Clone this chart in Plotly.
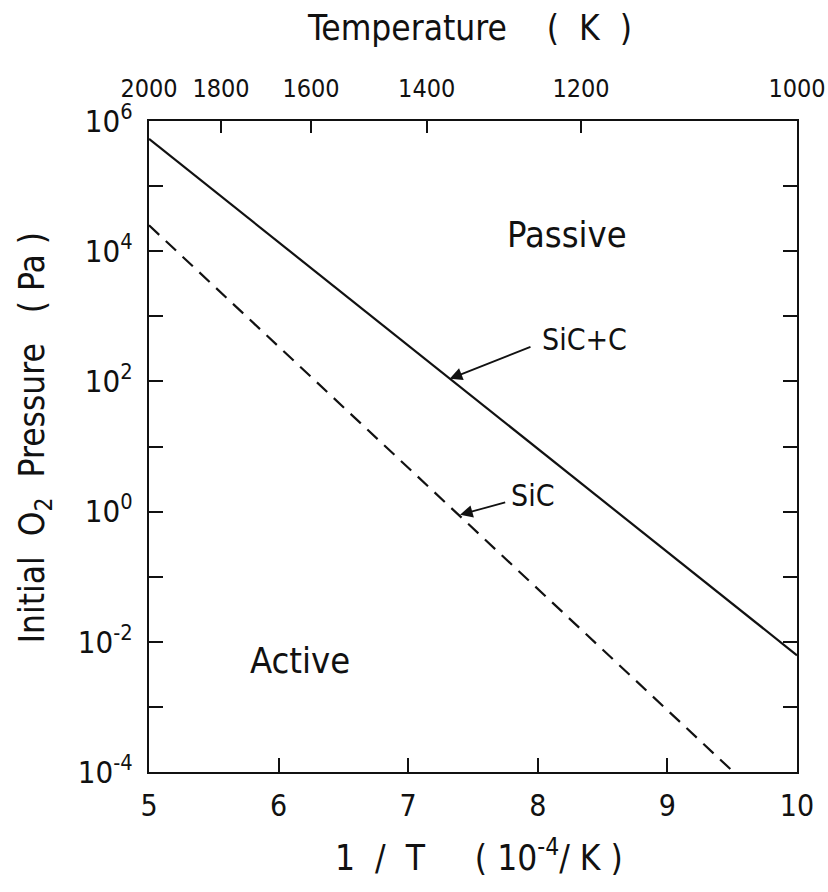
import plotly.graph_objects as go

# Data (1/T in 10^-4 /K, pressure in Pa)
inv_T_sicc = [5.0, 10.0]
p_sicc = [5.3e5, 6.2e-3]
inv_T_sic = [5.0, 9.51]
p_sic = [2.5e4, 1.0e-4]

temp_labels = [2000, 1800, 1600, 1400, 1200, 1000]
temp_pos = [1e4 / t for t in temp_labels]
x_ticks = [5, 6, 7, 8, 9, 10]
y_exps = list(range(-4, 7))

FONT = "DejaVu Sans Condensed, Liberation Sans Narrow, sans-serif"
BLACK = "#111111"

fig = go.Figure()
fig.add_trace(go.Scatter(x=inv_T_sicc, y=p_sicc, mode="lines",
                         line=dict(color=BLACK, width=2.2), showlegend=False))
fig.add_trace(go.Scatter(x=inv_T_sic, y=p_sic, mode="lines",
                         line=dict(color=BLACK, width=2.2, dash="14px,9px"), showlegend=False))

ytickvals = [10.0 ** e for e in y_exps]
yticktext = [("10<sup>%d</sup>" % e) if e % 2 == 0 else "" for e in y_exps]

axis_common = dict(showline=True, linecolor=BLACK, linewidth=2.2, ticks="inside",
                   tickcolor=BLACK, tickwidth=2.2, showgrid=False, zeroline=False,
                   automargin=False)

top_text = [str(t) for t in temp_labels]

fig.update_layout(
    width=828, height=892,
    margin=dict(l=149, r=31, t=121, b=120),
    paper_bgcolor="white", plot_bgcolor="white",
    font=dict(family=FONT, color=BLACK),
    xaxis=dict(range=[5, 10], tickvals=x_ticks, ticktext=[str(v) for v in x_ticks],
               ticklen=14, ticklabelstandoff=6, tickangle=0,
               tickfont=dict(family=FONT, size=30, color=BLACK), **axis_common),
    xaxis2=dict(range=[5, 10], overlaying="x", side="top", tickvals=temp_pos,
                ticktext=top_text, ticklen=12, ticklabelstandoff=12, tickangle=0,
                tickfont=dict(family=FONT, size=25, color=BLACK), **axis_common),
    yaxis=dict(type="log", range=[-4, 6], tickvals=ytickvals, ticktext=yticktext,
               ticklen=14, mirror="ticks", ticklabelstandoff=8,
               tickfont=dict(family=FONT, size=31, color=BLACK), **axis_common),
)

fig.add_trace(go.Scatter(x=inv_T_sicc, y=p_sicc, xaxis="x2", mode="lines",
                         line=dict(color="rgba(0,0,0,0)", width=0), showlegend=False,
                         hoverinfo="skip"))

title_font = dict(family=FONT, size=35, color=BLACK)
big_font = dict(family=FONT, size=36, color=BLACK)
small_font = dict(family=FONT, size=30, color=BLACK)
annotations = [
    dict(text="Temperature    (  K  )", xref="paper", yref="paper", x=0.495, y=1.143,
         showarrow=False, font=title_font, xanchor="center", yanchor="middle"),
    dict(text="1  /  T     ( 10<sup>-4</sup>/ K )", xref="paper", yref="paper", x=0.51, y=-0.128,
         showarrow=False, font=title_font, xanchor="center", yanchor="middle"),
    dict(text="Initial  O<sub>2</sub>  Pressure   ( Pa )", xref="paper", yref="paper",
         x=-0.177, y=0.513, textangle=-90, showarrow=False, font=title_font,
         xanchor="center", yanchor="middle"),
    dict(text="Passive", x=8.225, y=4.26, xref="x", yref="y", showarrow=False, font=big_font),
    dict(text="Active", x=6.165, y=-2.29, xref="x", yref="y", showarrow=False, font=big_font),
    dict(text="SiC+C", x=8.36, y=2.64, xref="x", yref="y", showarrow=False, font=small_font),
    dict(text="SiC", x=7.96, y=0.24, xref="x", yref="y", showarrow=False, font=small_font),
    dict(text="", x=7.32, y=2.04, ax=7.955, ay=2.54, xref="x", yref="y", axref="x", ayref="y",
         showarrow=True, arrowhead=2, arrowsize=1.4, arrowwidth=1.8, arrowcolor=BLACK),
    dict(text="", x=7.40, y=-0.05, ax=7.76, ay=0.15, xref="x", yref="y", axref="x", ayref="y",
         showarrow=True, arrowhead=2, arrowsize=1.4, arrowwidth=1.8, arrowcolor=BLACK),
]
fig.update_layout(annotations=annotations)

fig.write_html("out.html")
